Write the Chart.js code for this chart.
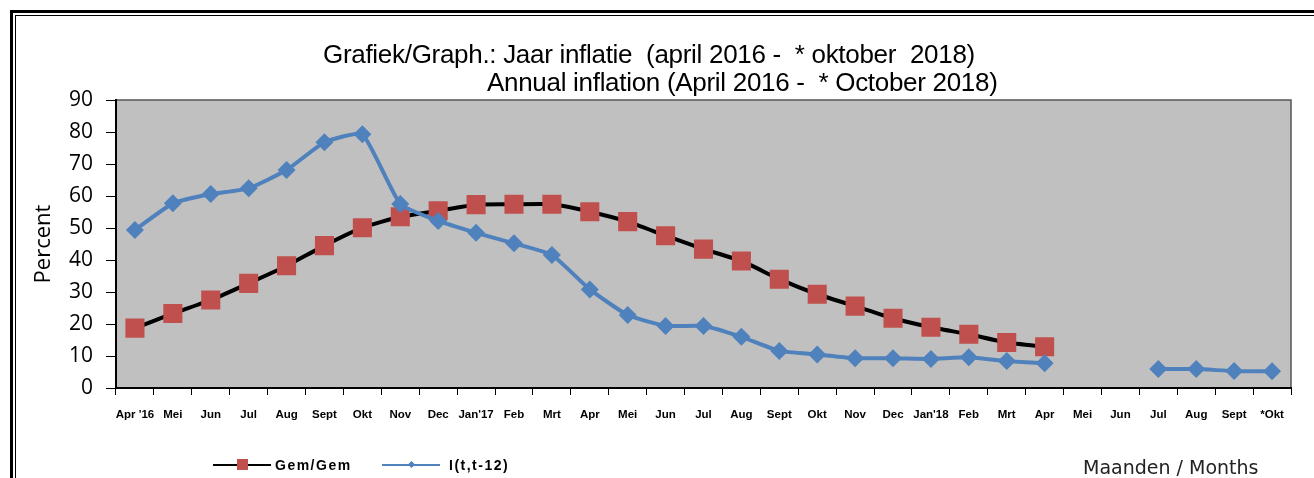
<!DOCTYPE html>
<html>
<head>
<meta charset="utf-8">
<script src="https://cdn.jsdelivr.net/npm/chart.js@4"></script>
<style>
  body { margin: 0; background: #fff; width: 1314px; height: 478px; overflow: hidden; position: relative; font-family: "Liberation Sans", Arial, sans-serif; }
  #wrap { position: absolute; left: 0; top: 0; width: 1314px; height: 478px; }
  .frame-outer { position: absolute; left: 10px; top: 10px; width: 1400px; height: 600px; border: 3px solid #000; }
  .frame-inner { position: absolute; left: 15px; top: 15px; width: 1400px; height: 600px; border: 1px solid #000; }
  .title { position: absolute; font-size: 26px; color: #000; white-space: pre; letter-spacing: -0.3px; line-height: 30px; }
  .legend { position: absolute; top: 457px; font-size: 14px; font-weight: bold; color: #000; display: flex; align-items: center; white-space: pre; letter-spacing: 1.5px; }
  .lg-line { position: relative; width: 58px; height: 0; margin-right: 5px; }
  .lg-line .bar { position: absolute; left: 0; right: 0; top: -1px; height: 2px; }
  .lg-line .mk { position: absolute; }
  .months { position: absolute; left: 1083px; top: 456px; font-size: 19px; color: #222; font-family: "DejaVu Sans", sans-serif; letter-spacing: 0px; }
</style>
</head>
<body>
<div class="frame-outer"></div>
<div class="frame-inner"></div>
<div id="wrap"><canvas id="chart" width="1314" height="478"></canvas></div>
<div class="title" style="left:323px; top:39px;">Grafiek/Graph.: Jaar inflatie  (april 2016 -  * oktober  2018)</div>
<div class="title" style="left:487px; top:67px;">Annual inflation (April 2016 -  * October 2018)</div>
<div class="legend" style="left:213px;">
  <div class="lg-line" style="margin-right:4px"><div class="bar" style="background:#000"></div><div class="mk" style="left:24px; top:-6px; width:11px; height:11px; background:#c0504d"></div></div>Gem/Gem
</div>
<div class="legend" style="left:382px;">
  <div class="lg-line" style="margin-right:9px"><div class="bar" style="background:#4f81bd"></div><div class="mk" style="left:27px; top:-3px; width:5px; height:5px; background:#4f81bd; transform:rotate(45deg)"></div></div>I(t,t-12)
</div>
<div class="months">Maanden / Months</div>
<script>
const months = ["Apr '16", "Mei", "Jun", "Jul", "Aug", "Sept", "Okt", "Nov", "Dec", "Jan'17", "Feb", "Mrt",
  "Apr", "Mei", "Jun", "Jul", "Aug", "Sept", "Okt", "Nov", "Dec", "Jan'18", "Feb", "Mrt",
  "Apr", "Mei", "Jun", "Jul", "Aug", "Sept", "*Okt"];

// Gem/Gem (12-month average)
const gemGem = [18.7, 23.3, 27.5, 32.7, 38.2, 44.5, 50.1, 53.5, 55.4, 57.3, 57.4, 57.4,
  55.1, 52.0, 47.6, 43.4, 39.7, 34.0, 29.3, 25.6, 21.8, 19.0, 16.8, 14.2,
  12.9, null, null, null, null, null, null];

// I(t,t-12) (year-on-year)
const yoy = [49.4, 57.7, 60.6, 62.4, 68.1, 76.8, 79.3, 57.5, 52.2, 48.5, 45.2, 41.6,
  30.8, 22.8, 19.4, 19.4, 16.0, 11.6, 10.5, 9.3, 9.3, 9.1, 9.6, 8.4,
  7.7, null, null, 5.9, 5.9, 5.3, 5.2];

const yTicks = [0, 10, 20, 30, 40, 50, 60, 70, 80, 90];

const plotBg = {
  id: 'plotBg',
  beforeDraw(chart) {
    const { ctx, chartArea: a } = chart;
    ctx.save();
    ctx.fillStyle = '#c0c0c0';
    ctx.fillRect(a.left, a.top, a.right - a.left, a.bottom - a.top);
    ctx.strokeStyle = '#555';
    ctx.lineWidth = 1.5;
    ctx.strokeRect(a.left, a.top, a.right - a.left, a.bottom - a.top);
    ctx.restore();
  }
};

new Chart(document.getElementById('chart'), {
  type: 'line',
  data: {
    labels: months,
    datasets: [
      {
        label: 'I(t,t-12)',
        data: yoy,
        order: 0,
        borderColor: '#4f81bd',
        backgroundColor: '#4f81bd',
        borderWidth: 4,
        pointStyle: 'rectRot',
        pointRadius: 9,
        pointBorderWidth: 0,
        tension: 0.15,
        spanGaps: false
      },
      {
        label: 'Gem/Gem',
        data: gemGem,
        order: 1,
        borderColor: '#000',
        backgroundColor: '#c0504d',
        borderWidth: 4,
        pointStyle: 'rect',
        pointRadius: 13.5,
        pointBorderWidth: 0,
        tension: 0.15,
        spanGaps: false
      }
    ]
  },
  options: {
    responsive: false,
    animation: false,
    events: [],
    layout: { padding: { left: 0, top: 100, right: 23, bottom: 0 } },
    plugins: { legend: { display: false }, title: { display: false }, tooltip: { enabled: false } },
    scales: {
      x: {
        offset: true,
        grid: { offset: true, drawOnChartArea: false, drawTicks: true, tickLength: 7, color: '#000', lineWidth: 1 },
        border: { color: '#000', width: 2 },
        ticks: {
          autoSkip: false, maxRotation: 0, minRotation: 0, padding: 13, color: '#000',
          font: { family: '"Liberation Sans", Arial, sans-serif', size: 11.5, weight: 'bold' }
        },
        afterFit(scale) { scale.height = 90; }
      },
      y: {
        min: 0, max: 90,
        afterBuildTicks(scale) { scale.ticks = yTicks.map(v => ({ value: v })); },
        grid: { drawOnChartArea: false, drawTicks: true, tickLength: 10, color: '#000', lineWidth: 1 },
        border: { color: '#000', width: 2 },
        ticks: {
          padding: 13, color: '#000',
          font: { family: '"Open Sans", sans-serif', size: 21 }
        },
        title: {
          display: true, text: 'Percent', color: '#000',
          font: { family: '"Open Sans", sans-serif', size: 22 },
          padding: { top: 31, bottom: 0 }
        },
        afterFit(scale) { scale.width = 116; }
      }
    }
  },
  plugins: [plotBg]
});
</script>
</body>
</html>
